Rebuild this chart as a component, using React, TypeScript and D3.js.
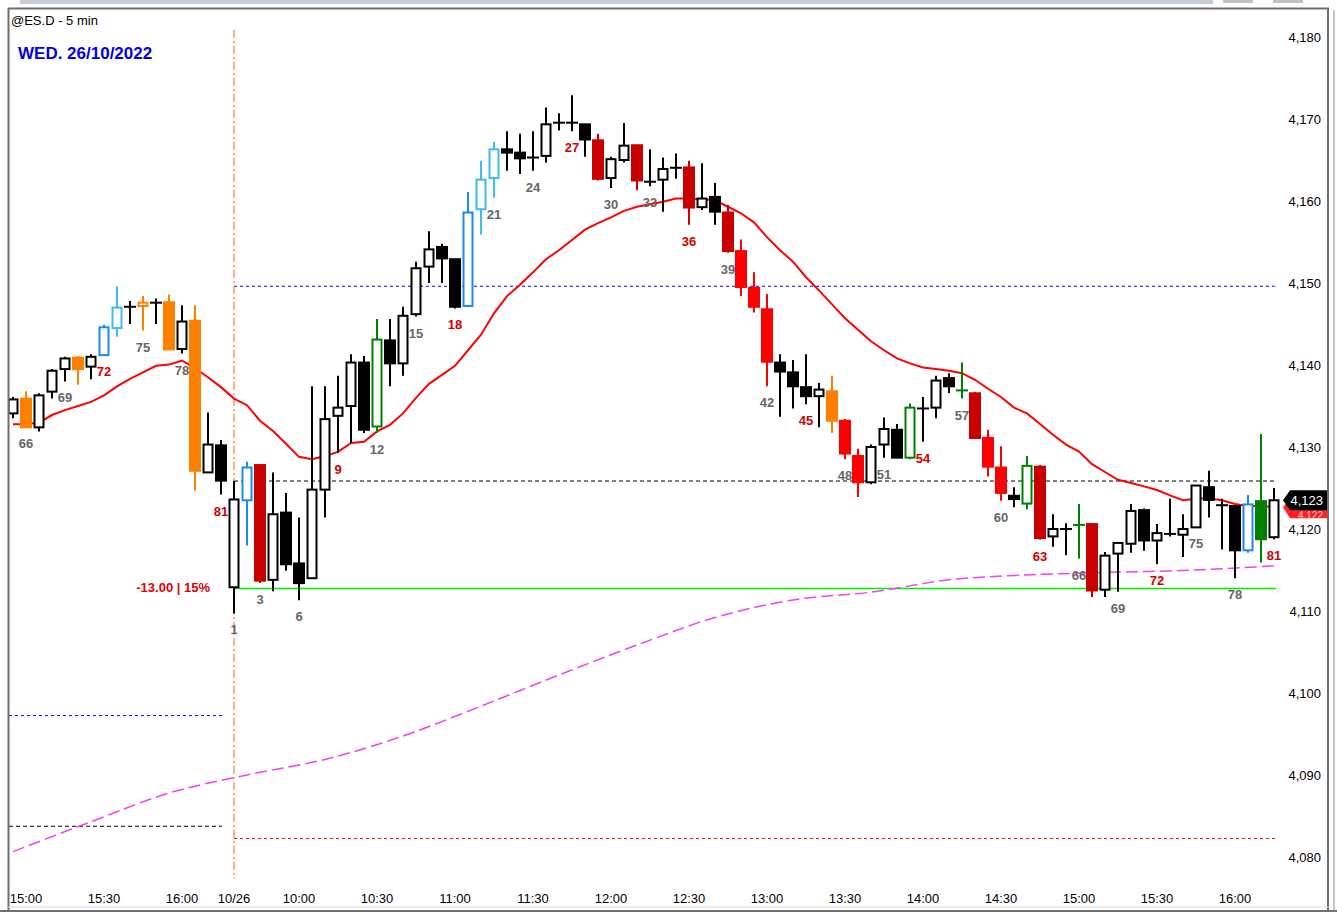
import * as d3 from "d3";

// bar numbers: previous session (65..81) followed by today's session (1..81)
const barNos = [...d3.range(65, 82), ...d3.range(1, 82)];

const opens = [
  4134.1, 4135.9, 4132.4, 4136.75, 4139.5, 4140.9, 4139.8, 4141.2, 4144.5, 4147.1, 4147.2, 4147.6, 4147.65, 4141.95, 4145.4, 4126.9, 4130.2,
  4112.9, 4123.5, 4127.8, 4113.8, 4122.0, 4115.8, 4114.0, 4124.8, 4133.8, 4135.0,
  4140.3, 4132.5, 4143.0, 4140.2, 4146.2, 4152.0, 4154.4, 4152.9, 4147.2, 4159.0,
  4162.8, 4166.3, 4165.9, 4165.3, 4165.5, 4169.55, 4169.55, 4169.35, 4167.4, 4162.8,
  4165.0, 4166.8, 4162.35, 4162.6, 4164.05, 4164.1, 4159.25, 4160.5, 4158.6, 4153.9,
  4149.4, 4146.8, 4140.3, 4139.1, 4137.3, 4136.2, 4136.8, 4133.2, 4128.9, 4125.7,
  4130.3, 4132.1, 4128.7, 4134.7, 4134.8, 4138.4, 4136.9, 4136.55, 4131.1, 4127.5,
  4124.05, 4123.1, 4127.6, 4119.1, 4120.0, 4120.5, 4120.6, 4112.6, 4117.0, 4118.2,
  4122.3, 4118.6, 4119.4, 4119.3, 4120.2, 4125.1, 4122.9, 4122.8, 4117.4, 4123.4, 4119.0,
];
const highs = [
  4136.1, 4136.8, 4136.55, 4139.5, 4141.0, 4141.1, 4141.3, 4144.9, 4149.6, 4147.8, 4148.4, 4148.1, 4148.6, 4147.3, 4147.3, 4134.2, 4130.85,
  4125.85, 4128.2, 4127.8, 4126.9, 4124.4, 4121.4, 4137.4, 4137.4, 4138.7, 4141.3,
  4141.1, 4145.6, 4145.6, 4147.1, 4152.6, 4156.3, 4154.8, 4152.9, 4161.1, 4164.9,
  4167.2, 4168.5, 4168.2, 4168.5, 4171.4, 4170.7, 4172.9, 4169.35, 4168.2, 4165.4,
  4169.5, 4166.8, 4166.3, 4165.3, 4165.8, 4164.9, 4164.6, 4162.2, 4159.5, 4155.3,
  4151.3, 4148.65, 4141.3, 4140.6, 4141.3, 4137.8, 4138.7, 4133.4, 4129.8, 4130.3,
  4133.6, 4132.8, 4135.3, 4136.1, 4138.7, 4139.0, 4140.3, 4136.75, 4132.1, 4130.1,
  4125.1, 4128.9, 4127.8, 4121.8, 4120.7, 4123.05, 4120.6, 4117.2, 4118.3, 4123.05,
  4122.5, 4120.6, 4123.7, 4121.8, 4125.3, 4127.1, 4123.7, 4122.8, 4124.15, 4131.6, 4125.0,
];
const lows = [
  4133.5, 4132.4, 4131.9, 4135.9, 4138.0, 4137.6, 4138.25, 4141.2, 4143.45, 4145.0, 4144.2, 4145.0, 4141.9, 4141.4, 4124.7, 4126.9, 4124.2,
  4109.7, 4118.0, 4113.4, 4112.4, 4114.9, 4111.3, 4114.0, 4121.4, 4129.3, 4130.5,
  4131.7, 4131.7, 4137.4, 4138.7, 4145.9, 4150.0, 4150.0, 4146.9, 4147.2, 4155.9,
  4160.4, 4163.7, 4163.3, 4163.7, 4164.7, 4168.6, 4168.5, 4165.4, 4162.5, 4161.6,
  4164.7, 4161.3, 4161.8, 4158.7, 4162.7, 4157.1, 4158.9, 4157.1, 4153.7, 4148.4,
  4146.4, 4137.4, 4133.7, 4134.7, 4135.2, 4132.4, 4131.7, 4128.5, 4123.9, 4125.45,
  4128.7, 4128.7, 4128.5, 4130.65, 4133.5, 4136.6, 4135.9, 4131.0, 4126.4, 4123.45,
  4122.65, 4122.4, 4118.7, 4117.85, 4116.8, 4116.4, 4111.7, 4111.7, 4112.35, 4117.1,
  4117.35, 4115.7, 4119.1, 4116.6, 4120.2, 4121.4, 4117.5, 4114.0, 4117.1, 4115.9, 4118.75,
];
const closes = [
  4135.8, 4132.4, 4136.3, 4139.3, 4140.8, 4139.5, 4141.0, 4144.6, 4147.0, 4147.1, 4147.6, 4147.6, 4141.9, 4145.3, 4127.1, 4130.3, 4125.9,
  4123.6, 4127.5, 4113.7, 4121.8, 4115.7, 4113.4, 4124.8, 4133.4, 4134.8, 4140.3,
  4132.1, 4143.1, 4140.2, 4146.0, 4151.8, 4154.1, 4153.0, 4147.1, 4158.6, 4162.6,
  4166.3, 4165.9, 4165.2, 4165.3, 4169.35, 4169.55, 4169.55, 4167.5, 4162.7, 4165.1,
  4166.75, 4162.5, 4162.35, 4163.9, 4164.05, 4159.2, 4160.3, 4158.7, 4153.9, 4149.5,
  4147.1, 4140.4, 4139.2, 4137.4, 4136.2, 4137.0, 4133.2, 4129.2, 4125.7, 4130.0,
  4132.2, 4128.7, 4134.8, 4134.7, 4138.1, 4137.4, 4136.9, 4131.1, 4127.6, 4124.4,
  4123.65, 4127.7, 4118.9, 4120.0, 4120.0, 4120.5, 4112.5, 4116.75, 4118.3, 4122.2,
  4118.6, 4119.5, 4119.4, 4120.0, 4125.3, 4123.55, 4122.9, 4117.4, 4123.0, 4118.75, 4123.5,
];
// paint style of each bar
const kinds = [
  "w", "o", "w", "w", "w", "o", "w", "bl", "sk", "b", "oh", "b", "o", "w", "o", "w", "b",
  "w", "bl", "dr", "w", "b", "b", "w", "w", "w", "w",
  "b", "g", "b", "w", "w", "w", "b", "b", "bl", "sk",
  "sk", "b", "b", "b", "w", "b", "b", "b", "dr", "w",
  "w", "dr", "b", "w", "b", "dr", "w", "b", "dr", "r",
  "r", "r", "b", "b", "b", "w", "o", "r", "r", "w",
  "w", "b", "g", "b", "w", "b", "g", "dr", "r", "r",
  "b", "g", "dr", "w", "b", "g", "dr", "w", "w", "w",
  "b", "w", "b", "w", "w", "b", "b", "b", "bl", "gf", "w",
];

const ema = [
  4132.77, 4132.8, 4132.96, 4133.9, 4134.5, 4135.0, 4135.5, 4136.3, 4137.4, 4138.3, 4139.1, 4139.9, 4140.05, 4140.55, 4139.6, 4138.5, 4137.3,
  4135.9, 4135.1, 4133.2, 4131.95, 4130.4, 4128.8, 4128.5, 4128.9, 4129.4, 4130.5,
  4130.65, 4131.9, 4132.7, 4134.1, 4136.0, 4137.7, 4138.8, 4139.9, 4141.8, 4143.7,
  4146.3, 4148.4, 4149.8, 4151.3, 4152.9, 4154.0, 4155.25, 4156.5, 4157.3, 4158.0,
  4158.8, 4159.3, 4159.6, 4159.9, 4160.3, 4160.3, 4160.2, 4160.05, 4159.3, 4158.5,
  4157.4, 4155.6, 4154.0, 4152.6, 4150.7, 4149.1, 4147.4, 4145.7, 4144.3, 4142.9,
  4141.8, 4140.8, 4140.2, 4139.7, 4139.5, 4139.3, 4139.0, 4138.2, 4137.1, 4136.1,
  4134.8, 4134.1, 4132.8, 4131.5, 4130.3, 4129.45, 4127.9, 4126.95, 4126.0, 4125.6,
  4125.2, 4124.75, 4124.1, 4123.5, 4123.7, 4123.75, 4123.5, 4123.05, 4122.8, 4122.8, 4122.65,
];

// long average, read at a few bars
const slowIdx = [0, 6, 12, 18, 24, 30, 36, 42, 48, 54, 60, 66, 72, 78, 84, 90, 97];
const slowVal = [
  4080.65, 4084.3, 4087.8, 4090.0, 4091.9, 4094.75, 4098.4, 4102.2, 4105.85,
  4109.2, 4111.35, 4112.3, 4113.8, 4114.4, 4114.7, 4114.95, 4115.5,
];

const timeIdx = [1, 7, 13, 17, 22, 28, 34, 40, 46, 52, 58, 64, 70, 76, 82, 88, 94];
const timeLabels = [
  "15:00", "15:30", "16:00", "10/26", "10:00", "10:30", "11:00", "11:30", "12:00",
  "12:30", "13:00", "13:30", "14:00", "14:30", "15:00", "15:30", "16:00",
];

const yTicks = [4080, 4090, 4100, 4110, 4120, 4130, 4140, 4150, 4160, 4170, 4180];

// reference levels
const prevLevels = [
  { v: 4097.25, color: "#0000ff", dash: "3,3" },
  { v: 4083.75, color: "#000000", dash: "4,3" },
];
const todayLevels = [
  { v: 4149.6, color: "#0000ff", dash: "3,3" },
  { v: 4125.85, color: "#000000", dash: "4,3" },
  { v: 4112.75, color: "#00ee00", dash: "" },
  { v: 4082.25, color: "#ff0000", dash: "3,3" },
];

const COLORS: Record<string, string> = {
  w: "#000000",
  b: "#000000",
  o: "#ff8000",
  oh: "#ff8000",
  bl: "#1e88f0",
  sk: "#3cbcf0",
  dr: "#c80000",
  r: "#ff0000",
  g: "#008000",
  gf: "#008000",
};
const HOLLOW = new Set(["w", "oh", "bl", "sk", "g"]);

const W = 1337;
const H = 916;
const FONT = "Arial, 'Liberation Sans', sans-serif";

const x = d3.scaleLinear().domain([0, 97]).range([13, 1274]);
const y = d3.scaleLinear().domain([4080, 4180]).range([857, 37]);

export default function App() {
  const emaPath = d3
    .line<number>()
    .x((_, i) => x(i))
    .y((d) => y(d))(ema);
  const slowPath = d3
    .line<number>()
    .x((_, i) => x(slowIdx[i]))
    .y((d) => y(d))
    .curve(d3.curveMonotoneX)(slowVal);

  const dayStart = x(17);

  const candles = barNos.map((n, i) => {
    const cx = x(i);
    const k = kinds[i];
    const col = COLORS[k];
    const o = opens[i];
    const c = closes[i];
    const top = y(Math.max(o, c));
    const bot = y(Math.min(o, c));
    const doji = Math.abs(o - c) < 0.2;
    let body;
    if (doji) {
      body = <line x1={cx - 6} x2={cx + 6} y1={top} y2={top} stroke={col} strokeWidth={2} />;
    } else if (HOLLOW.has(k)) {
      body = (
        <rect x={cx - 4.5} y={top} width={9} height={Math.max(bot - top, 1)} fill="#fff" stroke={col} strokeWidth={2} />
      );
    } else {
      body = <rect x={cx - 6} y={top - 1} width={12} height={Math.max(bot - top + 2, 2)} fill={col} />;
    }
    return (
      <g key={i}>
        <line x1={cx} x2={cx} y1={y(highs[i])} y2={y(lows[i])} stroke={col} strokeWidth={2} />
        {body}
      </g>
    );
  });

  // every third bar is numbered, plus the session's first bar
  const barLabels = barNos.map((n, i) =>
    n % 3 === 0 || (n === 1 && i > 0) ? (
      <text
        key={i}
        x={x(i)}
        y={y(lows[i]) + 21}
        textAnchor="middle"
        fontSize={13}
        fontWeight="bold"
        fill={n % 9 === 0 ? "#d00000" : "#666666"}
      >
        {n}
      </text>
    ) : null
  );

  const fmt = d3.format(",");
  const lastY = y(closes[closes.length - 1]);
  const emaY = y(ema[ema.length - 1]);

  return (
    <svg
      width={W}
      height={H}
      style={{ position: "absolute", left: 0, top: 0, background: "#fff" }}
      fontFamily={FONT}
    >
      <defs>
        <clipPath id="plot">
          <rect x={9} y={9} width={1272} height={897} />
        </clipPath>
      </defs>
      <rect x={0} y={0} width={W} height={H} fill="#fff" />
      {/* window tab strip */}
      <rect x={20} y={0} width={1193} height={4} fill="#c6ccd6" />
      <rect x={1223} y={0} width={30} height={3} fill="#c0c0c0" />
      <rect x={1273} y={0} width={30} height={3} fill="#c0c0c0" />

      <g clipPath="url(#plot)">
        {prevLevels.map((l, i) => (
          <line key={i} x1={9} x2={222} y1={y(l.v)} y2={y(l.v)} stroke={l.color} strokeDasharray={l.dash} strokeWidth={1} />
        ))}
        {todayLevels.map((l, i) => (
          <line
            key={i}
            x1={dayStart}
            x2={1276}
            y1={y(l.v)}
            y2={y(l.v)}
            stroke={l.color}
            strokeDasharray={l.dash || undefined}
            strokeWidth={l.dash ? 1 : 1.5}
          />
        ))}
        <line x1={dayStart} x2={dayStart} y1={30} y2={879} stroke="#ff7a30" strokeWidth={1.2} strokeDasharray="8,3,2,3" />
        <path d={slowPath || ""} fill="none" stroke="#f040f0" strokeWidth={1.5} strokeDasharray="12,5" />
        <path d={emaPath || ""} fill="none" stroke="#ff0000" strokeWidth={2} />
        {candles}
        {barLabels}
        <text x={210} y={592} textAnchor="end" fontSize={13} fontWeight="bold" fill="#e00000">
          -13.00 | 15%
        </text>
      </g>

      {/* titles */}
      <text x={11} y={25} fontSize={13} fill="#000">
        @ES.D - 5 min
      </text>
      <text x={18} y={59} fontSize={17} fontWeight="bold" fill="#0000e6">
        WED. 26/10/2022
      </text>

      {/* price axis */}
      {yTicks.map((t) => (
        <text key={t} x={1321} y={y(t) + 5} textAnchor="end" fontSize={13} fill="#000">
          {fmt(t)}
        </text>
      ))}
      {/* average's tag, mostly hidden under the last-price tag */}
      <polygon
        points={`1283,${emaY} 1290,${emaY - 9} 1328,${emaY - 9} 1328,${emaY + 11} 1290,${emaY + 11}`}
        fill="#ff2020"
      />
      <text x={1323} y={emaY + 12} textAnchor="end" fontSize={10} fill="#ffd0d0">
        {fmt(Math.floor(ema[ema.length - 1]))}
      </text>
      <polygon
        points={`1283,${lastY} 1290,${lastY - 10} 1328,${lastY - 10} 1328,${lastY + 10} 1290,${lastY + 10}`}
        fill="#000"
      />
      <text x={1323} y={lastY + 5} textAnchor="end" fontSize={13} fill="#fff">
        {fmt(Math.floor(closes[closes.length - 1]))}
      </text>

      {/* time axis */}
      {timeIdx.map((t, i) => (
        <text key={i} x={x(t)} y={903} textAnchor="middle" fontSize={13} fill="#000">
          {timeLabels[i]}
        </text>
      ))}

      {/* frame */}
      <line x1={8} x2={1329} y1={8.5} y2={8.5} stroke="#6e6e6e" strokeWidth={2} />
      <line x1={8.5} x2={8.5} y1={8} y2={910} stroke="#6e6e6e" strokeWidth={2} />
      <line x1={1328} x2={1328} y1={8} y2={910} stroke="#6e6e6e" strokeWidth={2} />
      <line x1={8} x2={1329} y1={907} y2={907} stroke="#d8d8d8" strokeWidth={1} />
      <line x1={0} x2={1337} y1={911} y2={911} stroke="#707070" strokeWidth={2} />
      <line x1={1334} x2={1334} y1={10} y2={912} stroke="#8a8a8a" strokeWidth={1} />
    </svg>
  );
}
